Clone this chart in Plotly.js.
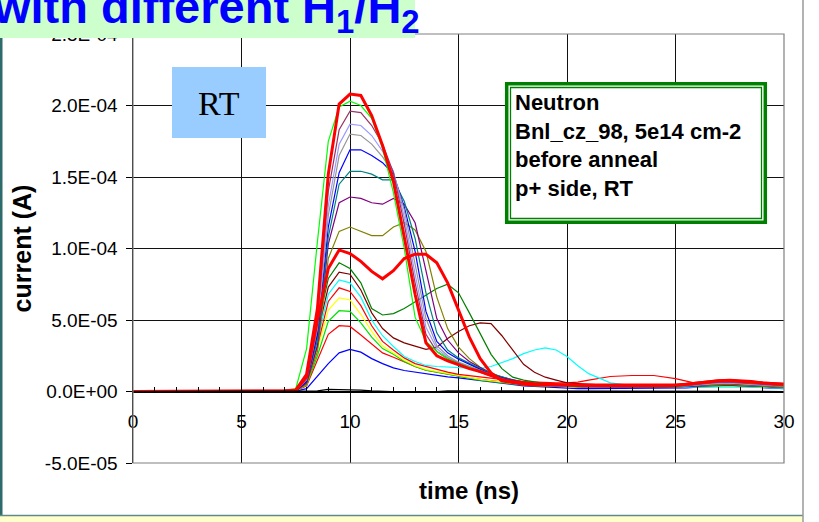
<!DOCTYPE html>
<html>
<head>
<meta charset="utf-8">
<script src="https://cdn.plot.ly/plotly-3.0.1.min.js"></script>
<style>html,body{margin:0;padding:0;background:#fff;}#chart{width:819px;height:522px;}</style>
</head>
<body>
<div id="chart"></div>
<script>
// ---------- DATA ----------
// time axis (ns)
const time_ns = [0,2,4,6,7,7.5, 8,8.5,9,9.5,10,10.5,11,11.5,12,12.5, 13,13.5,14,14.5,15,15.5,16,16.5,17,17.5, 18,18.5,19,19.5,20,20.5,21,21.5,22, 23,24,25,25.5,26,26.5,27,27.5,28,28.5, 29,29.5,30];
// current values, in units of 1e-5 A
const UNIT_A = 1e-5;
const red_thick_a = [0,0.02,0,0.03,0.05,0.1, 1.2,5.8,15.2,20.1,20.8,20.7,19.3,17.2,14.7,10.8, 6.8,3.4,2.5,2.15,1.85,1.6,1.4,1.1,0.85,0.7, 0.6,0.55,0.5,0.45,0.45,0.42,0.4,0.4,0.4, 0.4,0.4,0.42,0.5,0.6,0.7,0.75,0.78,0.75,0.7, 0.6,0.55,0.5];
const green_a = [0,0,0,0,0.05,0.2, 3.0,10.5,17.5,19.9,20.3,20.0,19.1,17.0,13.9,10.0, 5.2,3.5,2.8,2.3,1.95,1.7,1.4,1.1,0.8,0.6, 0.5,0.45,0.4,0.4,0.38,0.35,0.35,0.35,0.35, 0.35,0.35,0.4,0.45,0.55,0.65,0.7,0.7,0.65,0.6, 0.55,0.5,0.45];
const plum = [0,0,0,0,0.03,0.08, 1.0,5.0,14.0,18.3,19.6,19.5,18.6,17.3,15.3,11.7, 7.6,4.0,2.8,2.3,1.95,1.65,1.35,1.05,0.8,0.6, 0.5,0.45,0.4,0.4,0.38,0.35,0.35,0.35,0.35, 0.35,0.35,0.35,0.4,0.5,0.6,0.65,0.65,0.6,0.55, 0.5,0.45,0.4];
const periwinkle = [0,0,0,0,0.03,0.07, 0.9,4.7,13.0,17.3,18.7,18.6,17.9,16.8,15.4,12.2, 8.2,4.5,3.0,2.4,2.0,1.7,1.4,1.1,0.85,0.65, 0.5,0.45,0.4,0.4,0.35,0.35,0.35,0.3,0.3, 0.3,0.3,0.35,0.4,0.5,0.55,0.6,0.6,0.55,0.5, 0.45,0.4,0.4];
const grey = [0,0,0,0,0.02,0.06, 0.8,4.4,12.3,16.5,18.0,17.9,17.3,16.4,15.3,12.7, 8.8,5.1,3.2,2.5,2.05,1.75,1.45,1.15,0.9,0.7, 0.55,0.45,0.4,0.4,0.35,0.35,0.3,0.3,0.3, 0.3,0.3,0.35,0.4,0.45,0.55,0.6,0.6,0.55,0.5, 0.45,0.4,0.35];
const blue_a = [0,0,0,0,0.02,0.05, 0.7,4.0,11.5,15.3,16.9,16.9,16.5,16.0,15.2,12.9, 9.8,5.6,3.5,2.7,2.25,1.9,1.55,1.2,0.95,0.75, 0.6,0.5,0.45,0.4,0.35,0.35,0.3,0.3,0.3, 0.3,0.3,0.3,0.35,0.45,0.55,0.6,0.65,0.6,0.5, 0.45,0.4,0.35];
const teal = [0,0,0,0,0.02,0.05, 0.7,3.6,10.8,14.5,15.4,15.4,15.2,14.8,14.8,13.3, 10.7,6.9,4.1,2.9,2.35,1.95,1.6,1.25,1.0,0.8, 0.65,0.55,0.45,0.4,0.4,0.35,0.35,0.3,0.3, 0.3,0.3,0.3,0.35,0.45,0.5,0.55,0.6,0.55,0.5, 0.45,0.4,0.35];
const purple = [0,0,0,0,0.02,0.04, 0.6,3.2,10.3,13.2,13.6,13.5,13.2,13.1,13.5,13.1, 11.8,8.5,5.1,3.6,2.7,2.1,1.65,1.25,1.0,0.8, 0.65,0.55,0.5,0.45,0.4,0.35,0.35,0.3,0.3, 0.3,0.3,0.3,0.35,0.4,0.5,0.55,0.55,0.5,0.45, 0.4,0.35,0.35];
const olive = [0,0,0,0,0.02,0.04, 0.5,2.8,9.3,11.2,11.5,11.2,10.9,10.9,11.5,11.8, 11.3,9.8,6.6,4.4,3.1,2.3,1.7,1.3,1.0,0.8, 0.65,0.55,0.5,0.45,0.4,0.35,0.35,0.3,0.3, 0.3,0.3,0.3,0.35,0.4,0.45,0.5,0.5,0.45,0.4, 0.4,0.35,0.3];
const red_thick_b = [0,0,0.02,0,0.03,0.08, 1.0,5.0,8.6,9.9,9.65,9.1,8.4,7.88,8.45,9.3, 9.6,9.6,9.0,7.6,5.7,3.8,2.3,1.3,0.75,0.6, 0.5,0.45,0.45,0.4,0.4,0.4,0.4,0.4,0.42, 0.42,0.45,0.45,0.5,0.6,0.7,0.75,0.75,0.7,0.65, 0.6,0.55,0.5];
const dark_green = [0,0,0,0,0.02,0.06, 0.9,4.5,7.9,9.0,8.6,7.6,5.8,5.35,5.45,5.8, 6.25,6.7,7.2,7.5,6.9,5.5,4.1,2.6,1.6,1.0, 0.8,0.65,0.55,0.45,0.4,0.35,0.35,0.3,0.3, 0.3,0.3,0.3,0.35,0.4,0.45,0.5,0.5,0.45,0.4, 0.4,0.35,0.3];
const brown = [0,0,0,0,0.02,0.05, 0.8,4.0,7.3,8.35,8.2,7.1,5.5,4.4,3.75,3.4, 3.15,2.95,3.1,3.7,4.2,4.6,4.8,4.75,3.9,2.9, 1.9,1.35,1.0,0.8,0.6,0.55,0.5,0.45,0.4, 0.35,0.3,0.3,0.3,0.35,0.4,0.45,0.45,0.4,0.4, 0.35,0.3,0.3];
const cyan = [0,0,0.02,0,0.02,0.05, 0.7,3.6,6.8,7.8,7.6,6.6,5.0,3.9,3.15,2.45, 2.1,1.82,1.75,1.7,1.65,1.6,1.6,1.75,2.0,2.3, 2.65,2.9,3.05,2.9,2.45,1.8,1.25,0.9,0.6, 0.42,0.35,0.3,0.3,0.3,0.35,0.35,0.35,0.3,0.3, 0.3,0.25,0.25];
const red_thin_a = [0,0,0,0,0.02,0.05, 0.6,3.2,6.3,7.25,7.0,6.0,4.6,3.5,2.9,2.35, 1.95,1.75,1.5,1.35,1.2,1.1,1.0,0.9,0.8,0.75, 0.7,0.65,0.6,0.6,0.6,0.65,0.8,0.95,1.05, 1.12,1.12,0.9,0.7,0.55,0.5,0.5,0.5,0.45,0.4, 0.4,0.35,0.35];
const yellow = [0,0,0,0,0.02,0.04, 0.5,2.9,5.7,6.55,6.4,5.4,4.2,3.2,2.7,2.2, 1.8,1.55,1.4,1.25,1.1,0.95,0.85,0.75,0.65,0.55, 0.5,0.45,0.4,0.4,0.35,0.35,0.3,0.3,0.3, 0.3,0.3,0.3,0.3,0.35,0.4,0.4,0.4,0.35,0.35, 0.3,0.3,0.25];
const green_b = [0,0,0,0,0.02,0.04, 0.45,2.5,4.9,5.65,5.6,4.8,3.8,3.0,2.6,2.1, 1.75,1.5,1.35,1.2,1.05,0.9,0.8,0.7,0.6,0.5, 0.45,0.4,0.4,0.35,0.35,0.3,0.3,0.3,0.3, 0.3,0.3,0.3,0.3,0.35,0.45,0.5,0.5,0.45,0.4, 0.35,0.3,0.3];
const red_thin_b = [0,0,0,0,0.02,0.04, 0.4,2.2,4.0,4.6,4.55,3.95,3.3,2.7,2.4,2.05, 1.75,1.5,1.35,1.2,1.05,0.95,0.85,0.75,0.65,0.55, 0.5,0.45,0.4,0.4,0.35,0.35,0.35,0.3,0.3, 0.3,0.3,0.3,0.3,0.35,0.4,0.45,0.45,0.4,0.35, 0.35,0.3,0.3];
const blue_b = [0,0,0,0,0.01,0.03, 0.2,1.1,1.95,2.7,2.95,2.75,2.3,1.95,1.65,1.47, 1.35,1.22,1.1,1.02,0.95,0.85,0.78,0.7,0.6,0.5, 0.4,0.35,0.3,0.25,0.25,0.2,0.2,0.2,0.2, 0.2,0.2,0.2,0.25,0.3,0.35,0.4,0.4,0.35,0.3, 0.25,0.2,0.2];
const black_ref = [0,0,0,0,0,0, 0,0.05,0.15,0.15,0.15,0.1,0.05,0,0,-0.05, -0.05,-0.05,0,0.05,0.05,0,0,0,0.05,0.05, 0.05,0,0,0,0,0,0.05,0.05,0.05, 0.05,0,0,0,0.05,0.05,0.05,0.05,0.05,0.05, 0.05,0,0];

// axis ticks
const x_tick_vals = [0,5,10,15,20,25,30];
const y_tick_vals = [-5e-5,0,5e-5,1e-4,1.5e-4,2e-4,2.5e-4];
const y_tick_text = ['-5.0E-05','0.0E+00','5.0E-05','1.0E-04','1.5E-04','2.0E-04','2.5E-04'];

// ---------- STYLE ----------
const seriesList = [
  {v: blue_b,      c:'#0000FF', w:1.2},
  {v: red_thin_b,  c:'#FF0000', w:1.2},
  {v: green_b,     c:'#00E000', w:1.2},
  {v: yellow,      c:'#FFFF00', w:1.2},
  {v: red_thin_a,  c:'#FF0000', w:1.2},
  {v: cyan,        c:'#00FFFF', w:1.2},
  {v: brown,       c:'#800000', w:1.2},
  {v: dark_green,  c:'#008000', w:1.2},
  {v: olive,       c:'#808000', w:1.2},
  {v: purple,      c:'#800080', w:1.2},
  {v: teal,        c:'#008080', w:1.2},
  {v: blue_a,      c:'#0000FF', w:1.2},
  {v: grey,        c:'#969696', w:1.2},
  {v: periwinkle,  c:'#9999FF', w:1.2},
  {v: plum,        c:'#993366', w:1.2},
  {v: green_a,     c:'#00FF00', w:1.2},
  {v: red_thick_b, c:'#FF0000', w:3},
  {v: red_thick_a, c:'#FF0000', w:3}
];

const traces = [{
  x: time_ns, y: black_ref.map(v => v*UNIT_A), xaxis:'x2', yaxis:'y',
  mode:'lines', line:{color:'#000000', width:1.2}, hoverinfo:'skip'
}];
seriesList.forEach(s => traces.push({
  x: time_ns, y: s.v.map(v => v*UNIT_A), mode:'lines',
  line:{color:s.c, width:s.w}, hoverinfo:'skip'
}));

// pixel -> paper helpers (plot area 133..784 x 34..463)
const L=133, R=784, T=34, B=463;
const px = p => (p-L)/(R-L);
const py = p => (B-p)/(B-T);

const FONT = 'Liberation Sans, Arial, sans-serif';

const layout = {
  width:819, height:522,
  margin:{l:L, r:819-R, t:T, b:522-B, pad:0},
  paper_bgcolor:'#ffffff', plot_bgcolor:'#ffffff',
  showlegend:false,
  font:{family:FONT, color:'#000'},
  xaxis:{
    range:[0,30], tickvals:x_tick_vals, showticklabels:false,
    showgrid:true, gridcolor:'#111', gridwidth:1, zeroline:false,
    showline:false, ticks:''
  },
  xaxis2:{
    range:[0,30], overlaying:'x', anchor:'free', position:(B-391)/(B-T),
    tickvals:x_tick_vals, showgrid:false, zeroline:false,
    showline:true, linecolor:'#000', linewidth:1.5,
    ticks:'inside', ticklen:5, tickcolor:'#000',
    minor:{dtick:1, tick0:0, ticks:'inside', ticklen:4, tickcolor:'#000', showgrid:false},
    tickfont:{size:19, family:FONT, color:'#000'}, ticklabelstandoff:13
  },
  yaxis:{
    range:[-5e-5, 2.5e-4], tickvals:y_tick_vals, ticktext:y_tick_text,
    showgrid:true, gridcolor:'#111', gridwidth:1, zeroline:false,
    showline:true, linecolor:'#000', linewidth:1.5,
    ticks:'outside', ticklen:6, tickcolor:'#000',
    tickfont:{size:19, family:FONT, color:'#000'}, ticklabelstandoff:4,
    title:{text:'current (A)', font:{size:25, weight:'bold', family:FONT, color:'#000'}, standoff:6}
  },
  shapes:[
    // plot border
    {type:'rect', xref:'paper', yref:'paper', x0:0, x1:1, y0:0, y1:1, line:{color:'#808080', width:1.2}, layer:'above'},
    // info box (double green frame)
    {type:'rect', xref:'paper', yref:'paper', x0:px(506.7), x1:px(765.3), y0:py(222.3), y1:py(83.7), line:{color:'#008000', width:3.5}, fillcolor:'#ffffff', layer:'above'},
    {type:'rect', xref:'paper', yref:'paper', x0:px(510.5), x1:px(761.5), y0:py(218.5), y1:py(87.5), line:{color:'#008000', width:1.3}, layer:'above'},
    // RT label box
    {type:'rect', xref:'paper', yref:'paper', x0:px(172), x1:px(266), y0:py(138), y1:py(67), line:{width:0}, fillcolor:'#99CCFF', layer:'above'},
    // slide title banner
    {type:'rect', xref:'paper', yref:'paper', x0:px(0), x1:px(415), y0:py(38), y1:py(-2), line:{width:0}, fillcolor:'#CCFFCC', layer:'above'},
    // slide frame pieces
    {type:'rect', xref:'paper', yref:'paper', x0:px(0), x1:px(2.5), y0:py(515), y1:py(38), line:{width:0}, fillcolor:'#2E6B6B', layer:'above'},
    {type:'rect', xref:'paper', yref:'paper', x0:px(0), x1:px(803), y0:py(523), y1:py(516), line:{width:0}, fillcolor:'#FFFFCC', layer:'above'},
    {type:'line', xref:'paper', yref:'paper', x0:px(0), x1:px(803), y0:py(515.5), y1:py(515.5), line:{color:'#5F8A8A', width:1.5}, layer:'above'},
    {type:'line', xref:'paper', yref:'paper', x0:px(803), x1:px(803), y0:py(-2), y1:py(523), line:{color:'#9A9A9A', width:1.5}, layer:'above'}
  ],
  annotations:[
    {xref:'paper', yref:'paper', x:px(469), y:py(490), xanchor:'center', yanchor:'middle',
     text:'time (ns)', showarrow:false, font:{family:FONT, size:24, weight:'bold', color:'#000'}},
    {xref:'paper', yref:'paper', x:px(219), y:py(103), xanchor:'center', yanchor:'middle',
     text:'RT', showarrow:false, font:{family:'Liberation Serif, Times New Roman, serif', size:34, color:'#000'}},
    {xref:'paper', yref:'paper', x:px(513), y:py(88), xanchor:'left', yanchor:'top', align:'left',
     text:'Neutron<br>Bnl_cz_98, 5e14 cm-2<br>before anneal<br>p+ side, RT', showarrow:false,
     font:{family:FONT, size:22, weight:'bold', color:'#000'}},
    {xref:'paper', yref:'paper', x:px(-9), y:py(42), xanchor:'left', yanchor:'bottom', align:'left',
     text:'with different H<sub>1</sub>/H<sub>2</sub>', showarrow:false,
     font:{family:FONT, size:47, weight:'bold', color:'#0000FF'}}
  ]
};

Plotly.newPlot('chart', traces, layout, {staticPlot:true, displayModeBar:false});
</script>
</body>
</html>
